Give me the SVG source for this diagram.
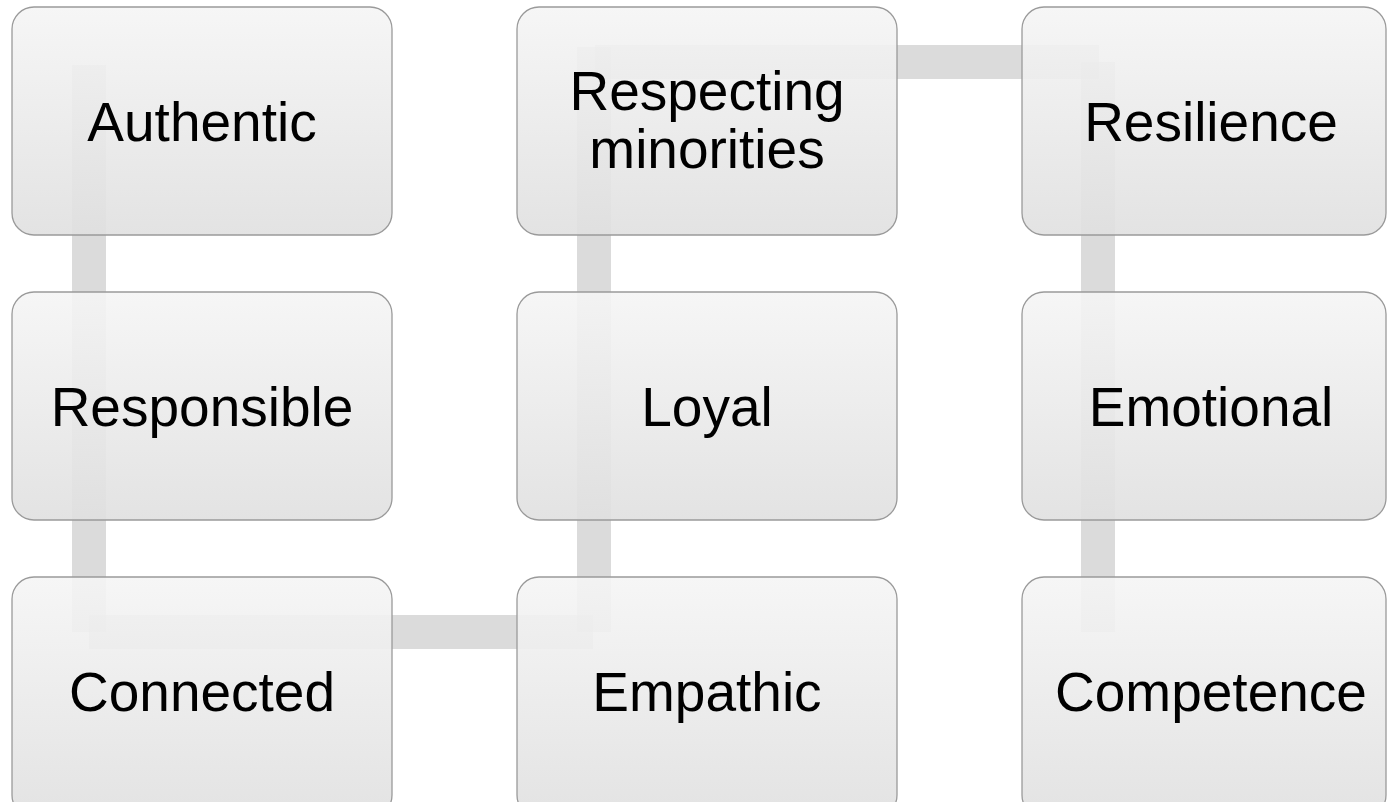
<svg xmlns="http://www.w3.org/2000/svg" width="1387" height="802" viewBox="0 0 1387 802">
<defs>
<linearGradient id="box" x1="0" y1="0" x2="0" y2="1">
<stop offset="0" stop-color="#f5f5f5"/>
<stop offset="1" stop-color="#e0e0e0"/>
</linearGradient>
</defs>
<style>
.bar{fill:#bdbdbd;fill-opacity:0.55}
.node rect{fill:url(#box);fill-opacity:0.9;stroke:#9a9a9a;stroke-width:1.3}
.node text{font-family:"Liberation Sans",Arial,sans-serif;font-size:55px;fill:#000;text-anchor:middle}
</style>
<rect width="1387" height="802" fill="#fff"/>
<g id="connectors">
<rect class="bar" x="72" y="65" width="34" height="282"/>
<rect class="bar" x="72" y="347" width="34" height="285"/>
<rect class="bar" x="89" y="615" width="504" height="34"/>
<rect class="bar" x="577" y="347" width="34" height="285"/>
<rect class="bar" x="577" y="47" width="34" height="300"/>
<rect class="bar" x="595" y="45" width="504" height="34"/>
<rect class="bar" x="1081" y="62" width="34" height="285"/>
<rect class="bar" x="1081" y="347" width="34" height="285"/>
</g>
<g id="node-authentic" class="node"><rect x="12" y="7" width="380" height="228" rx="22"/><text x="202" y="141">Authentic</text></g>
<g id="node-responsible" class="node"><rect x="12" y="292" width="380" height="228" rx="22"/><text x="202" y="426">Responsible</text></g>
<g id="node-connected" class="node"><rect x="12" y="577" width="380" height="240" rx="22"/><text x="202" y="711">Connected</text></g>
<g id="node-respecting" class="node"><rect x="517" y="7" width="380" height="228" rx="22"/><text x="707" y="110">Respecting</text><text x="707" y="168">minorities</text></g>
<g id="node-loyal" class="node"><rect x="517" y="292" width="380" height="228" rx="22"/><text x="707" y="426">Loyal</text></g>
<g id="node-empathic" class="node"><rect x="517" y="577" width="380" height="240" rx="22"/><text x="707" y="711">Empathic</text></g>
<g id="node-resilience" class="node"><rect x="1022" y="7" width="364" height="228" rx="22"/><text x="1211" y="141">Resilience</text></g>
<g id="node-emotional" class="node"><rect x="1022" y="292" width="364" height="228" rx="22"/><text x="1211" y="426">Emotional</text></g>
<g id="node-competence" class="node"><rect x="1022" y="577" width="364" height="240" rx="22"/><text x="1211" y="711">Competence</text></g>
</svg>
